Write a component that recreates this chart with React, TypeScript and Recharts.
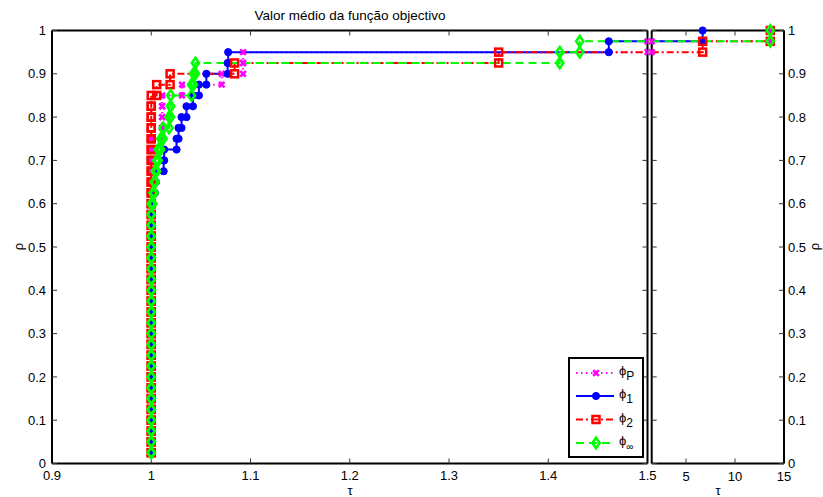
import React from 'react';
import { LineChart, Line, XAxis, YAxis } from 'recharts';

const FONT = '"Liberation Sans", Arial, Helvetica, sans-serif';
const N_PROBLEMS = 40;

// sorted performance ratios (one per problem) for each solver
const ratiosPhiP = [
  1, 1, 1, 1, 1, 1, 1, 1, 1, 1,
  1, 1, 1, 1, 1, 1, 1, 1, 1, 1,
  1, 1, 1, 1, 1, 1, 1, 1, 1, 1,
  1.011, 1.011, 1.011, 1.011, 1.031, 1.071, 1.0925, 1.0925, 1.5, 13.6,
];
const ratiosPhi1 = [
  1, 1, 1, 1, 1, 1, 1, 1, 1, 1,
  1, 1, 1, 1, 1, 1, 1, 1, 1, 1,
  1, 1, 1, 1, 1, 1.0037, 1.0047, 1.0125, 1.013, 1.0255,
  1.0275, 1.0305, 1.0355, 1.042, 1.048, 1.0555, 1.077, 1.0775, 1.461, 6.7,
];
const ratiosPhi2 = [
  1, 1, 1, 1, 1, 1, 1, 1, 1, 1,
  1, 1, 1, 1, 1, 1, 1, 1, 1, 1,
  1, 1, 1, 1, 1, 1, 1, 1, 1, 1,
  1, 1, 1, 1, 1.0055, 1.019, 1.084, 1.35, 6.7, 13.6,
];
const ratiosPhiInf = [
  1, 1, 1, 1, 1, 1, 1, 1, 1, 1,
  1, 1, 1, 1, 1, 1, 1, 1, 1, 1,
  1, 1, 1, 1, 1.0017, 1.003, 1.004, 1.0055, 1.007, 1.0095,
  1.012, 1.018, 1.0195, 1.0195, 1.0405, 1.0425, 1.0445, 1.4116, 1.4317, 13.6,
];

const leftXTicks = [0.9, 1, 1.1, 1.2, 1.3, 1.4, 1.5];
const rightXTicks = [5, 10, 15];
const yTicks = [0, 0.1, 0.2, 0.3, 0.4, 0.5, 0.6, 0.7, 0.8, 0.9, 1];
const SPLIT_TAU = 1.5;

type Pt = { x: number; y: number; boundary?: boolean };

function stairVertices(ratios: number[]): Pt[] {
  const pts: Pt[] = [];
  ratios.forEach((r, i) => {
    if (i > 0) pts.push({ x: r, y: i / N_PROBLEMS });
    pts.push({ x: r, y: (i + 1) / N_PROBLEMS });
  });
  return pts;
}

function fromTau(ratios: number[], tau: number): Pt[] {
  const verts = stairVertices(ratios).filter((p) => p.x >= tau);
  const level = ratios.filter((r) => r < tau).length / N_PROBLEMS;
  return [{ x: tau, y: level, boundary: true }, ...verts];
}

const SERIES = [
  { id: 'P', sub: 'P', ratios: ratiosPhiP, color: '#ff00ff', dash: '1.5 3.5', marker: 'x' },
  { id: '1', sub: '1', ratios: ratiosPhi1, color: '#0000ff', dash: undefined, marker: 'o' },
  { id: '2', sub: '2', ratios: ratiosPhi2, color: '#ff0000', dash: '7 3 2 3', marker: 's' },
  { id: 'inf', sub: '∞', ratios: ratiosPhiInf, color: '#00ff00', dash: '8 5', marker: 'd' },
];

function Marker({ kind, cx, cy, color }: { kind: string; cx: number; cy: number; color: string }) {
  if (kind === 'x') {
    const h = 2.8;
    return (
      <g>
        <line x1={cx - h} y1={cy - h} x2={cx + h} y2={cy + h} stroke={color} strokeWidth={2.5} />
        <line x1={cx - h} y1={cy + h} x2={cx + h} y2={cy - h} stroke={color} strokeWidth={2.5} />
      </g>
    );
  }
  if (kind === 'o') {
    return <circle cx={cx} cy={cy} r={3.6} fill={color} stroke={color} strokeWidth={1} />;
  }
  if (kind === 's') {
    return <rect x={cx - 3.5} y={cy - 3.5} width={7} height={7} fill="none" stroke={color} strokeWidth={2.5} />;
  }
  const hw = 3.6;
  const hh = 5.3;
  return (
    <polygon
      points={`${cx},${cy - hh} ${cx + hw},${cy} ${cx},${cy + hh} ${cx - hw},${cy}`}
      fill="none"
      stroke={color}
      strokeWidth={2.5}
    />
  );
}

const axisLine = { stroke: '#000', strokeWidth: 2 };
const tickLine = { stroke: '#333', strokeWidth: 1 };
const tickStyle = { fontSize: 13, fill: '#000', fontFamily: FONT };
const noLabel = () => <g />;

function renderLines(side: 'left' | 'right') {
  const lines = SERIES.map((s) => (
    <Line
      key={s.id}
      data={side === 'left' ? stairVertices(s.ratios) : fromTau(s.ratios, SPLIT_TAU)}
      dataKey="y"
      xAxisId="b"
      yAxisId="l"
      type="linear"
      stroke={s.color}
      strokeWidth={2}
      strokeDasharray={s.dash}
      isAnimationActive={false}
      activeDot={false}
      dot={(p: any) =>
        p.payload && p.payload.boundary ? (
          <g key={`d-${s.id}-${p.index}`} />
        ) : (
          <Marker key={`d-${s.id}-${p.index}`} kind={s.marker} cx={p.cx} cy={p.cy} color={s.color} />
        )
      }
    />
  ));
  // invisible copy bound to the top / right axes so that they get ticks too
  lines.push(
    <Line
      key="frame"
      data={side === 'left' ? stairVertices(ratiosPhi2) : fromTau(ratiosPhi2, SPLIT_TAU)}
      dataKey="y"
      xAxisId="t"
      yAxisId="r"
      stroke="none"
      dot={false}
      activeDot={false}
      isAnimationActive={false}
    />
  );
  return lines;
}

function Legend() {
  const rows = [373, 396, 419.5, 443];
  return (
    <svg width={823} height={497} style={{ position: 'absolute', left: 0, top: 0, pointerEvents: 'none' }}>
      <rect x={569} y={358} width={74} height={99} fill="#fff" stroke="#000" strokeWidth={2} />
      {SERIES.map((s, i) => (
        <g key={s.id}>
          <line x1={576} x2={614} y1={rows[i]} y2={rows[i]} stroke={s.color} strokeWidth={2} strokeDasharray={s.dash} />
          <Marker kind={s.marker} cx={596} cy={rows[i]} color={s.color} />
          <text x={619} y={rows[i] + 2} fontSize={13} fontFamily={FONT} fill="#000">
            ϕ
            <tspan fontSize={s.sub === '∞' ? 10 : 12} dy={5}>{s.sub}</tspan>
          </text>
        </g>
      ))}
    </svg>
  );
}

export default function App() {
  return (
    <div style={{ position: 'absolute', left: 0, top: 0, width: 823, height: 497, background: '#fff', fontFamily: FONT }}>
      <div style={{ position: 'absolute', left: 0, top: 0 }}>
        <LineChart width={660} height={497} margin={{ top: 29.5, right: 11.5, bottom: 32.5, left: 51 }}>
          <XAxis
            xAxisId="b"
            type="number"
            dataKey="x"
            domain={[0.9, 1.5]}
            ticks={leftXTicks}
            allowDataOverflow
            interval={0}
            height={1}
            tickSize={-5}
            tickMargin={12}
            tick={tickStyle}
            axisLine={axisLine}
            tickLine={tickLine}
          />
          <XAxis
            xAxisId="t"
            orientation="top"
            type="number"
            dataKey="x"
            domain={[0.9, 1.5]}
            ticks={leftXTicks}
            allowDataOverflow
            interval={0}
            height={1}
            tickSize={-5}
            tick={noLabel}
            axisLine={axisLine}
            tickLine={tickLine}
          />
          <YAxis
            yAxisId="l"
            type="number"
            domain={[0, 1]}
            ticks={yTicks}
            interval={0}
            width={1}
            tickSize={-5}
            tickMargin={11}
            tick={tickStyle}
            axisLine={axisLine}
            tickLine={tickLine}
          />
          <YAxis
            yAxisId="r"
            orientation="right"
            type="number"
            domain={[0, 1]}
            ticks={yTicks}
            interval={0}
            width={1}
            tickSize={-5}
            tick={noLabel}
            axisLine={axisLine}
            tickLine={tickLine}
          />
          {renderLines('left')}
        </LineChart>
      </div>
      <div style={{ position: 'absolute', left: 640, top: 0 }}>
        <LineChart width={183} height={497} margin={{ top: 29.5, right: 38, bottom: 32.5, left: 10.7 }}>
          <XAxis
            xAxisId="b"
            type="number"
            dataKey="x"
            domain={[1.5, 15]}
            ticks={rightXTicks}
            interval={0}
            height={1}
            tickSize={-5}
            tickMargin={13.5}
            tick={tickStyle}
            axisLine={axisLine}
            tickLine={tickLine}
          />
          <XAxis
            xAxisId="t"
            orientation="top"
            type="number"
            dataKey="x"
            domain={[1.5, 15]}
            ticks={rightXTicks}
            interval={0}
            height={1}
            tickSize={-5}
            tick={noLabel}
            axisLine={axisLine}
            tickLine={tickLine}
          />
          <YAxis
            yAxisId="l"
            type="number"
            domain={[0, 1]}
            ticks={yTicks}
            interval={0}
            width={1}
            tickSize={-5}
            tick={noLabel}
            axisLine={axisLine}
            tickLine={tickLine}
          />
          <YAxis
            yAxisId="r"
            orientation="right"
            type="number"
            domain={[0, 1]}
            ticks={yTicks}
            interval={0}
            width={1}
            tickSize={-5}
            tickMargin={9}
            tick={tickStyle}
            axisLine={axisLine}
            tickLine={tickLine}
          />
          {renderLines('right')}
        </LineChart>
      </div>
      <Legend />
      <div style={{ position: 'absolute', left: 100, width: 500, top: 8, textAlign: 'center', fontSize: 13.5, color: '#000' }}>
        Valor médio da função objectivo
      </div>
      <div style={{ position: 'absolute', left: 340, width: 20, top: 485, lineHeight: '12px', textAlign: 'center', fontSize: 13 }}>τ</div>
      <div style={{ position: 'absolute', left: 708, width: 20, top: 485, lineHeight: '12px', textAlign: 'center', fontSize: 13 }}>τ</div>
      <div style={{ position: 'absolute', left: 8, top: 239, width: 20, textAlign: 'center', fontSize: 13, transform: 'rotate(-90deg)' }}>ρ</div>
      <div style={{ position: 'absolute', left: 804, top: 239, width: 20, textAlign: 'center', fontSize: 13, transform: 'rotate(-90deg)' }}>ρ</div>
    </div>
  );
}
